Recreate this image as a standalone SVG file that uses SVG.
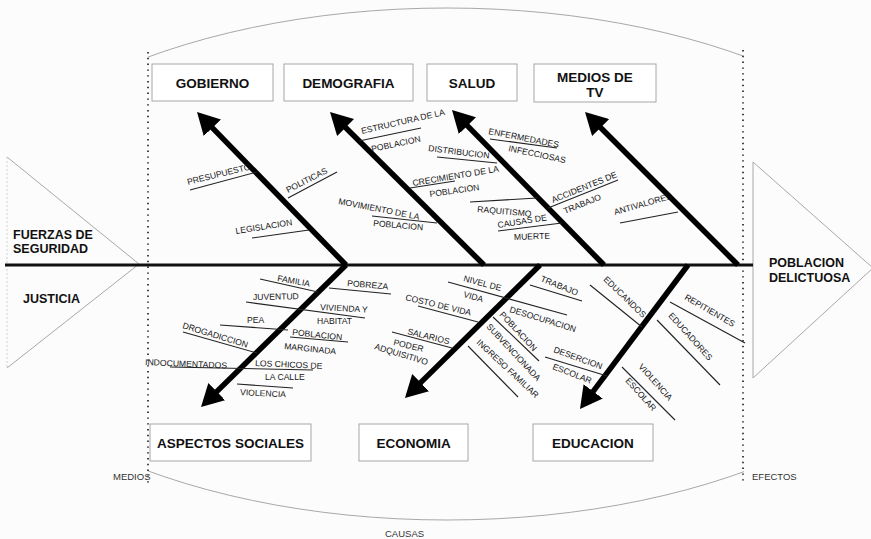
<svg xmlns="http://www.w3.org/2000/svg" width="871" height="539" viewBox="0 0 871 539">
  <style>
    .bg { fill: #fcfcfc; }
    .thin { fill: none; stroke: #a8a8a8; stroke-width: 1; }
    .dots { fill: none; stroke: #444; stroke-width: 2; stroke-dasharray: 1.4 4.4; }
    .box { fill: #ffffff; stroke: #a6a6a6; stroke-width: 1; }
    .title { font-family: "Liberation Sans", Arial, sans-serif; font-weight: bold; font-size: 13.5px; fill: #111; text-anchor: middle; }
    .side { font-family: "Liberation Sans", Arial, sans-serif; font-weight: bold; font-size: 12.5px; fill: #111; }
    .lbl { font-family: "Liberation Sans", Arial, sans-serif; font-size: 8.6px; fill: #151515; }
    .cap { font-family: "Liberation Sans", Arial, sans-serif; font-size: 9.5px; fill: #333; }
    .bone { stroke: #000; stroke-width: 5.5; fill: none; marker-end: url(#head); }
    .spine { stroke: #111; stroke-width: 3; }
    .sub { stroke: #222; stroke-width: 1.1; }
  </style>
  <defs>
    <marker id="head" markerUnits="userSpaceOnUse" markerWidth="24" markerHeight="24" refX="10" refY="12" orient="auto">
      <path d="M0,0 L22,12 L0,24 z" fill="#000"/>
    </marker>
    <clipPath id="frame">
      <rect x="148" y="0" width="596" height="539"/>
    </clipPath>
  </defs>

  <rect class="bg" x="0" y="0" width="871" height="539"/>

  <!-- outer ellipse between the two dotted limits -->
  <ellipse class="thin" cx="447" cy="264" rx="508" ry="256" clip-path="url(#frame)"/>

  <!-- side triangles -->
  <polyline class="thin" points="7,157 139,264 7,368"/>
  <line x1="7" y1="157" x2="7" y2="368" stroke="#cfcfcf" stroke-width="1" stroke-dasharray="2 2"/>
  <polyline class="thin" points="753,162 873,268 753,378 753,162"/>

  <!-- dotted limits -->
  <line class="dots" x1="148" y1="52" x2="148" y2="484"/>
  <line class="dots" x1="743" y1="50" x2="743" y2="484"/>

  <!-- connectors -->
  <g id="connectors">
    <line class="spine" x1="5" y1="265" x2="753" y2="265"/>
    <!-- upper bones -->
    <line class="bone" x1="346" y1="265" x2="205.4" y2="120.6"/>
    <line class="bone" x1="484" y1="265" x2="338.5" y2="120.5"/>
    <line class="bone" x1="604" y1="265" x2="460.4" y2="118.6"/>
    <line class="bone" x1="738" y1="265" x2="593.5" y2="120.5"/>
    <!-- lower bones -->
    <line class="bone" x1="346" y1="265" x2="209.6" y2="398.6"/>
    <line class="bone" x1="540" y1="265" x2="413.5" y2="389.6"/>
    <line class="bone" x1="688" y1="265" x2="587.2" y2="399.4"/>

    <!-- minor cause lines -->
    <line class="sub" x1="190" y1="190" x2="257" y2="172"/>
    <line class="sub" x1="288" y1="198" x2="337" y2="172"/>
    <line class="sub" x1="252" y1="238" x2="309" y2="230"/>
    <line class="sub" x1="359" y1="141" x2="421" y2="128"/>
    <line class="sub" x1="437" y1="157" x2="497" y2="163"/>
    <line class="sub" x1="410" y1="188" x2="455" y2="181"/>
    <line class="sub" x1="372" y1="216" x2="437" y2="223"/>
    <line class="sub" x1="490" y1="139" x2="557" y2="148"/>
    <line class="sub" x1="470" y1="202" x2="537" y2="198"/>
    <line class="sub" x1="498" y1="231" x2="562" y2="223"/>
    <line class="sub" x1="548" y1="208" x2="618" y2="180"/>
    <line class="sub" x1="620" y1="223" x2="678" y2="212"/>

    <line class="sub" x1="260" y1="279" x2="318" y2="292"/>
    <line class="sub" x1="329" y1="288" x2="391" y2="294"/>
    <line class="sub" x1="246" y1="302" x2="365" y2="318"/>
    <line class="sub" x1="220" y1="325" x2="288" y2="330"/>
    <line class="sub" x1="290" y1="337" x2="348" y2="342"/>
    <line class="sub" x1="183" y1="332" x2="257" y2="353"/>
    <line class="sub" x1="170" y1="367" x2="313" y2="370"/>
    <line class="sub" x1="237" y1="384" x2="293" y2="388"/>

    <line class="sub" x1="448" y1="282" x2="567" y2="315"/>
    <line class="sub" x1="530" y1="285" x2="582" y2="301"/>
    <line class="sub" x1="418" y1="306" x2="478" y2="322"/>
    <line class="sub" x1="392" y1="332" x2="452" y2="348"/>
    <line class="sub" x1="493" y1="317" x2="539" y2="361"/>
    <line class="sub" x1="468" y1="346" x2="518" y2="397"/>
    <line class="sub" x1="545" y1="357" x2="607" y2="376"/>
    <line class="sub" x1="590" y1="285" x2="642" y2="327"/>
    <line class="sub" x1="670" y1="302" x2="745" y2="343"/>
    <line class="sub" x1="657" y1="320" x2="720" y2="385"/>
    <line class="sub" x1="622" y1="367" x2="675" y2="420"/>
  </g>

  <!-- effect boxes: upper row -->
  <g id="gobierno">
    <rect class="box" x="152" y="64" width="121" height="37"/>
    <text class="title" x="212.5" y="88">GOBIERNO</text>
  </g>
  <g id="demografia">
    <rect class="box" x="284" y="64" width="129" height="37"/>
    <text class="title" x="348.5" y="88">DEMOGRAFIA</text>
  </g>
  <g id="salud">
    <rect class="box" x="427" y="64" width="90" height="37"/>
    <text class="title" x="472" y="88">SALUD</text>
  </g>
  <g id="medios-tv">
    <rect class="box" x="534" y="64" width="122" height="38"/>
    <text class="title" x="595" y="82">MEDIOS DE</text>
    <text class="title" x="595" y="97">TV</text>
  </g>

  <!-- effect boxes: lower row -->
  <g id="aspectos-sociales">
    <rect class="box" x="150" y="424" width="161" height="37"/>
    <text class="title" x="230.5" y="448">ASPECTOS SOCIALES</text>
  </g>
  <g id="economia">
    <rect class="box" x="359" y="424" width="109" height="37"/>
    <text class="title" x="413.5" y="448">ECONOMIA</text>
  </g>
  <g id="educacion">
    <rect class="box" x="533" y="424" width="120" height="37"/>
    <text class="title" x="593" y="448">EDUCACION</text>
  </g>

  <!-- head and tail -->
  <g id="fuerzas">
    <text class="side" x="13" y="239">FUERZAS DE</text>
    <text class="side" x="13" y="253">SEGURIDAD</text>
  </g>
  <g id="justicia">
    <text class="side" x="23" y="303">JUSTICIA</text>
  </g>
  <g id="poblacion-delictuosa">
    <text class="side" x="769" y="267">POBLACION</text>
    <text class="side" x="769" y="282">DELICTUOSA</text>
  </g>

  <!-- cause labels, upper half -->
  <g id="causes-top">
    <text class="lbl" transform="translate(188,185) rotate(-14)">PRESUPUESTO</text>
    <text class="lbl" transform="translate(288,193) rotate(-27)">POLITICAS</text>
    <text class="lbl" transform="translate(236,234) rotate(-9)">LEGISLACION</text>
    <text class="lbl" transform="translate(362,134) rotate(-13)">ESTRUCTURA DE LA</text>
    <text class="lbl" transform="translate(372,152) rotate(-12)">POBLACION</text>
    <text class="lbl" transform="translate(428,151) rotate(7)">DISTRIBUCION</text>
    <text class="lbl" transform="translate(413,186) rotate(-9.5)">CRECIMIENTO DE LA</text>
    <text class="lbl" transform="translate(430,197) rotate(-8)">POBLACION</text>
    <text class="lbl" transform="translate(338,204) rotate(11)">MOVIMIENTO DE LA</text>
    <text class="lbl" transform="translate(373,226) rotate(5)">POBLACION</text>
    <text class="lbl" transform="translate(488,134) rotate(11)">ENFERMEDADES</text>
    <text class="lbl" transform="translate(508,151) rotate(12)">INFECCIOSAS</text>
    <text class="lbl" transform="translate(477,212) rotate(5)">RAQUITISMO</text>
    <text class="lbl" transform="translate(498,228) rotate(-9)">CAUSAS DE</text>
    <text class="lbl" transform="translate(514,240) rotate(-2)">MUERTE</text>
    <text class="lbl" transform="translate(553,203) rotate(-22)">ACCIDENTES DE</text>
    <text class="lbl" transform="translate(565,214) rotate(-22)">TRABAJO</text>
    <text class="lbl" transform="translate(615,215) rotate(-16)">ANTIVALORES</text>
  </g>

  <!-- cause labels, lower half -->
  <g id="causes-bottom">
    <text class="lbl" transform="translate(277,281) rotate(10)">FAMILIA</text>
    <text class="lbl" transform="translate(347,286) rotate(5)">POBREZA</text>
    <text class="lbl" transform="translate(253,300) rotate(-1)">JUVENTUD</text>
    <text class="lbl" transform="translate(320,310) rotate(3)">VIVIENDA Y</text>
    <text class="lbl" transform="translate(317,324)">HABITAT</text>
    <text class="lbl" transform="translate(247,323)">PEA</text>
    <text class="lbl" transform="translate(292,335) rotate(6)">POBLACION</text>
    <text class="lbl" transform="translate(284,349) rotate(6)">MARGINADA</text>
    <text class="lbl" transform="translate(182,328) rotate(17)">DROGADICCION</text>
    <text class="lbl" transform="translate(145,365) rotate(2.5)">INDOCUMENTADOS</text>
    <text class="lbl" transform="translate(255,366) rotate(2.5)">LOS CHICOS DE</text>
    <text class="lbl" transform="translate(265,380)">LA CALLE</text>
    <text class="lbl" transform="translate(240,395) rotate(3)">VIOLENCIA</text>

    <text class="lbl" transform="translate(463,281) rotate(15)">NIVEL DE</text>
    <text class="lbl" transform="translate(463,297) rotate(15)">VIDA</text>
    <text class="lbl" transform="translate(540,281) rotate(22)">TRABAJO</text>
    <text class="lbl" transform="translate(405,300) rotate(13.5)">COSTO DE VIDA</text>
    <text class="lbl" transform="translate(509,312) rotate(17)">DESOCUPACION</text>
    <text class="lbl" transform="translate(407,334) rotate(14)">SALARIOS</text>
    <text class="lbl" transform="translate(393,345) rotate(13)">PODER</text>
    <text class="lbl" transform="translate(374,349) rotate(17)">ADQUISITIVO</text>
    <text class="lbl" transform="translate(499,315) rotate(47)">POBLACION</text>
    <text class="lbl" transform="translate(486,327) rotate(47)">SUBVENCIONADA</text>
    <text class="lbl" transform="translate(476,343) rotate(43)">INGRESO FAMILIAR</text>
    <text class="lbl" transform="translate(553,352) rotate(20)">DESERCION</text>
    <text class="lbl" transform="translate(552,369) rotate(21)">ESCOLAR</text>
    <text class="lbl" transform="translate(603,280) rotate(44)">EDUCANDOS</text>
    <text class="lbl" transform="translate(684,299) rotate(30)">REPITIENTES</text>
    <text class="lbl" transform="translate(668,316) rotate(48)">EDUCADORES</text>
    <text class="lbl" transform="translate(638,367) rotate(48)">VIOLENCIA</text>
    <text class="lbl" transform="translate(625,381) rotate(48)">ESCOLAR</text>
  </g>

  <!-- frame captions -->
  <text class="cap" x="113" y="480">MEDIOS</text>
  <text class="cap" x="752" y="480">EFECTOS</text>
  <text class="cap" x="385" y="537">CAUSAS</text>
</svg>
